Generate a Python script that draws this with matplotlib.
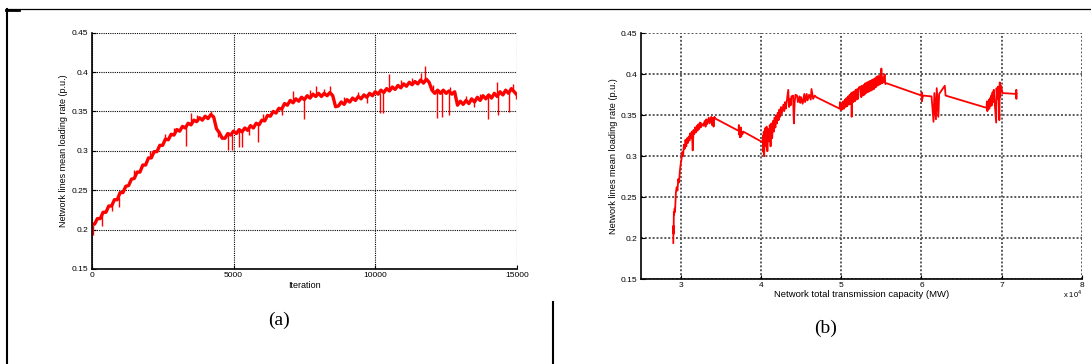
import matplotlib

matplotlib.use("Agg")
import matplotlib.pyplot as plt
from matplotlib.lines import Line2D
from matplotlib.ticker import FixedLocator, FuncFormatter


# (a) mean loading rate per iteration, read every 100 iterations
ITERATIONS = list(range(0, 15001, 100))
LOADING_A = [
    0.207, 0.207, 0.214, 0.214, 0.222, 0.222, 0.230, 0.230, 0.238, 0.238,
    0.247, 0.247, 0.255, 0.256, 0.264, 0.265, 0.273, 0.273, 0.282, 0.282,
    0.291, 0.291, 0.299, 0.299, 0.307, 0.307, 0.315, 0.314, 0.321, 0.320,
    0.327, 0.325, 0.331, 0.329, 0.335, 0.333, 0.339, 0.337, 0.342, 0.339,
    0.344, 0.341, 0.346, 0.343, 0.328, 0.323, 0.316, 0.316, 0.322, 0.320,
    0.325, 0.322, 0.327, 0.324, 0.329, 0.326, 0.332, 0.329, 0.335, 0.333,
    0.339, 0.338, 0.345, 0.344, 0.350, 0.348, 0.354, 0.353, 0.360, 0.358,
    0.364, 0.361, 0.366, 0.363, 0.368, 0.365, 0.370, 0.367, 0.372, 0.369,
    0.373, 0.369, 0.373, 0.370, 0.374, 0.370, 0.356, 0.357, 0.362, 0.359,
    0.365, 0.362, 0.367, 0.364, 0.369, 0.366, 0.371, 0.368, 0.373, 0.370,
    0.375, 0.372, 0.377, 0.374, 0.379, 0.376, 0.381, 0.378, 0.383, 0.380,
    0.385, 0.382, 0.387, 0.384, 0.388, 0.385, 0.390, 0.386, 0.391, 0.387,
    0.377, 0.373, 0.377, 0.373, 0.377, 0.373, 0.376, 0.372, 0.375, 0.358,
    0.363, 0.359, 0.364, 0.360, 0.366, 0.362, 0.368, 0.364, 0.370, 0.366,
    0.371, 0.367, 0.373, 0.369, 0.375, 0.371, 0.377, 0.373, 0.379, 0.375,
    0.371,
]
# single-iteration outliers in (a): where, level before, level reached
SPIKE_ITER = [
    50, 370, 950, 3320, 3510, 4810, 4930, 5180, 5300, 5860,
    7100, 7470, 7900, 8400, 10160, 10280, 10500, 11620, 11740, 12170,
    12350, 12610, 12650, 13960, 14280, 14340, 14710,
    700, 1500, 2050, 2600, 2900, 3700, 4200, 4450, 5550, 6050,
    6700, 7700, 8200, 8900, 9400, 9700, 10900, 11300, 12050, 12800,
    13200, 13500, 13700, 14850, 14950,
]
SPIKE_FROM = [
    0.206, 0.219, 0.241, 0.330, 0.334, 0.320, 0.321, 0.325, 0.326, 0.334,
    0.362, 0.367, 0.370, 0.372, 0.374, 0.375, 0.377, 0.388, 0.388, 0.375,
    0.375, 0.374, 0.374, 0.368, 0.372, 0.372, 0.374,
    0.233, 0.267, 0.291, 0.314, 0.321, 0.338, 0.344, 0.326, 0.328, 0.338,
    0.354, 0.368, 0.371, 0.360, 0.367, 0.369, 0.381, 0.385, 0.375, 0.374,
    0.362, 0.364, 0.366, 0.377, 0.373,
]
SPIKE_TO = [
    0.193, 0.205, 0.229, 0.306, 0.348, 0.301, 0.301, 0.305, 0.305, 0.311,
    0.376, 0.340, 0.382, 0.382, 0.348, 0.348, 0.397, 0.399, 0.408, 0.342,
    0.343, 0.346, 0.381, 0.341, 0.388, 0.346, 0.349,
    0.224, 0.276, 0.300, 0.322, 0.329, 0.346, 0.350, 0.318, 0.320, 0.347,
    0.346, 0.377, 0.378, 0.368, 0.375, 0.361, 0.390, 0.393, 0.383, 0.366,
    0.369, 0.356, 0.372, 0.385, 0.366,
]

# (b) mean loading rate against total transmission capacity (MW)
CAPACITY_B = [
    29080, 29100, 29120, 29150, 29180, 29250, 29300, 29400, 29500, 29600,
    29700, 29800, 29900, 30000, 30100, 30200, 30300, 30400, 30500, 30600,
    30700, 30800, 30900, 31000, 31100, 31200, 31300, 31400, 31500, 31600,
    31700, 31800, 31900, 32000, 32100, 32200, 32300, 32400, 32500, 32600,
    32800, 33000, 33100, 33200, 33300, 33500, 33600, 33800, 33900, 34000,
    34100, 34200, 34300,
    37200, 37250, 37300, 37350, 37400, 37450, 37500, 37550, 37600, 37700,
    37800,
    40200, 40250, 40300, 40350, 40400, 40500, 40600, 40700, 40800, 40900,
    41000, 41100, 41200, 41300, 41400, 41500, 41600, 41700, 41800, 41900,
    42000, 42100, 42200, 42300, 42400, 42500, 42600, 42800, 42900, 43000,
    43100, 43400, 43500, 43600, 43700, 43800, 44000, 44100, 44200, 44300,
    44500, 44600, 44800, 44900, 45000, 45200, 45400, 45500, 45700, 45800,
    46000, 46200, 46300, 46500, 46700, 46900,
    49800, 49850, 49950, 50050, 50150, 50250, 50350, 50450, 50550, 50650,
    50750, 50850, 50950, 51050, 51150, 51250, 51300, 51400, 51500, 51600,
    51700, 51800, 51900, 52000, 52100, 52200, 52400, 52500, 52600, 52700,
    52800, 52900, 53000, 53100, 53200, 53300, 53400, 53500, 53600, 53700,
    53800, 53900, 54000, 54100, 54200, 54300, 54400, 54500, 54600, 54700,
    54800, 54900, 55000, 55100, 55200, 55300, 55400, 55500, 55650,
    60000, 60020, 60050, 60080, 60100, 60150,
    61250, 61500, 61600, 61800, 61900, 62100, 62200, 62900, 63000,
    68100, 68150, 68200, 68250, 68300, 68400, 68450, 68550, 68600, 68700,
    68750, 68850, 68900, 69000, 69300, 69350, 69450, 69550, 69700, 69750,
    69800, 69900, 70100,
    71800, 71810, 71820, 71830,
]
LOADING_B = [
    0.194, 0.215, 0.205, 0.232, 0.228, 0.236, 0.232, 0.255, 0.262, 0.258,
    0.272, 0.268, 0.282, 0.290, 0.296, 0.305, 0.300, 0.314, 0.309, 0.320,
    0.312, 0.322, 0.316, 0.324, 0.319, 0.328, 0.322, 0.330, 0.307, 0.332,
    0.327, 0.335, 0.329, 0.337, 0.331, 0.339, 0.333, 0.341, 0.335, 0.340,
    0.337, 0.343, 0.336, 0.345, 0.339, 0.347, 0.340, 0.348, 0.338, 0.347,
    0.336, 0.348, 0.346,
    0.331, 0.338, 0.326, 0.333, 0.323, 0.331, 0.335, 0.324, 0.330, 0.327,
    0.330,
    0.317, 0.325, 0.305, 0.330, 0.300, 0.334, 0.312, 0.336, 0.306, 0.333,
    0.318, 0.338, 0.312, 0.340, 0.322, 0.343, 0.330, 0.347, 0.335, 0.350,
    0.340, 0.353, 0.344, 0.357, 0.348, 0.360, 0.352, 0.363, 0.355, 0.366,
    0.358, 0.381, 0.360, 0.370, 0.362, 0.373, 0.374, 0.340, 0.366, 0.375,
    0.374, 0.366, 0.373, 0.365, 0.372, 0.364, 0.376, 0.366, 0.376, 0.368,
    0.375, 0.369, 0.382, 0.370, 0.374, 0.372,
    0.358, 0.366, 0.356, 0.364, 0.357, 0.367, 0.358, 0.369, 0.360, 0.371,
    0.361, 0.373, 0.363, 0.375, 0.364, 0.377, 0.348, 0.378, 0.366, 0.379,
    0.367, 0.381, 0.369, 0.382, 0.370, 0.384, 0.385, 0.372, 0.386, 0.374,
    0.387, 0.375, 0.389, 0.377, 0.390, 0.378, 0.391, 0.379, 0.392, 0.380,
    0.393, 0.381, 0.394, 0.382, 0.395, 0.384, 0.397, 0.386, 0.398, 0.387,
    0.398, 0.388, 0.407, 0.389, 0.396, 0.390, 0.400, 0.388, 0.389,
    0.374, 0.378, 0.367, 0.376, 0.370, 0.374,
    0.373, 0.342, 0.377, 0.345, 0.383, 0.348, 0.376, 0.386, 0.374,
    0.359, 0.367, 0.355, 0.366, 0.357, 0.369, 0.358, 0.371, 0.361, 0.374,
    0.362, 0.378, 0.366, 0.381, 0.341, 0.383, 0.370, 0.385, 0.344, 0.390,
    0.372, 0.386, 0.377,
    0.376, 0.381, 0.370, 0.376,
]

Y_TICKS = [0.15, 0.2, 0.25, 0.3, 0.35, 0.4, 0.45]
X_TICKS_A = [0, 5000, 10000, 15000]
X_TICKS_B = [30000, 40000, 50000, 60000, 70000, 80000]

plt.rcParams["font.family"] = ["Liberation Sans", "DejaVu Sans"]
plt.rcParams["mathtext.fontset"] = "custom"
plt.rcParams["mathtext.rm"] = "Liberation Sans"


def style_axes(ax, grid_color, grid_lw):
    for side in ["top", "right"]:
        ax.spines[side].set_visible(False)
    for side in ["left", "bottom"]:
        ax.spines[side].set_linewidth(1.2)
        ax.spines[side].set_color("black")
    ax.grid(True, color=grid_color, linestyle=(0, (1, 1)), linewidth=grid_lw)
    ax.set_axisbelow(True)
    ax.tick_params(direction="in", length=3, width=0.8, labelsize=6,
                   pad=2.5, colors="black")
    ax.yaxis.set_major_locator(FixedLocator(Y_TICKS))
    ax.yaxis.set_major_formatter(FuncFormatter(lambda v, p: f"{v:g}"))
    ax.set_ylim(0.15, 0.45)


fig = plt.figure(figsize=(10.91, 3.64), dpi=100)

ax_a = fig.add_axes([0.0841, 0.261, 0.3898, 0.6492])
ax_a.plot(ITERATIONS, LOADING_A, color="red", linewidth=2.4)
ax_a.vlines(SPIKE_ITER, SPIKE_FROM, SPIKE_TO, color="red", linewidth=1.0)
style_axes(ax_a, "black", 0.8)
ax_a.set_xlim(0, 15000)
ax_a.xaxis.set_major_locator(FixedLocator(X_TICKS_A))
ax_a.set_xlabel("Iteration", fontsize=6.5)
ax_a.xaxis.set_label_coords(0.5, -0.068)
ax_a.xaxis.label.set_va("center")
ax_a.set_ylabel("Network lines mean loading rate (p.u.)", fontsize=6.5)
ax_a.yaxis.set_label_coords(-0.0675, 0.5)
ax_a.yaxis.label.set_va("center")

ax_b = fig.add_axes([0.5871, 0.2335, 0.4047, 0.675])
ax_b.plot(CAPACITY_B, LOADING_B, color="red", linewidth=1.3)
style_axes(ax_b, "0.35", 1.4)
ax_b.set_xlim(25000, 80000)
ax_b.xaxis.set_major_locator(FixedLocator(X_TICKS_B))
ax_b.xaxis.set_major_formatter(FuncFormatter(lambda v, p: f"{v / 1e4:g}"))
ax_b.set_xlabel("Network total transmission capacity (MW)", fontsize=6.8)
ax_b.xaxis.set_label_coords(0.5, -0.065)
ax_b.xaxis.label.set_va("center")
ax_b.set_ylabel("Network lines mean loading rate (p.u.)", fontsize=6.6)
ax_b.yaxis.set_label_coords(-0.0623, 0.5)
ax_b.yaxis.label.set_va("center")
fig.text(0.9925, 0.193, r"x 10$^{4}$", fontsize=5.5, ha="right", va="center")

# panel captions
fig.text(0.2557, 0.121, "(a)", fontsize=14, ha="center", va="center",
         family=["Liberation Serif", "DejaVu Serif"])
fig.text(0.757, 0.099, "(b)", fontsize=14, ha="center", va="center",
         family=["Liberation Serif", "DejaVu Serif"])

# table-like frame around the figure
fig.add_artist(Line2D([0.0055, 1.0], [0.9753, 0.9753], color="black", lw=0.9))
fig.add_artist(Line2D([0.0055, 0.0175], [0.9725, 0.9725], color="black", lw=2.0))
fig.add_artist(Line2D([0.0064, 0.0064], [0.0, 0.9753], color="black", lw=1.5))
fig.add_artist(Line2D([0.5066, 0.5066], [0.0, 0.1703], color="black", lw=1.5))

fig.savefig("out.png", dpi=100)
